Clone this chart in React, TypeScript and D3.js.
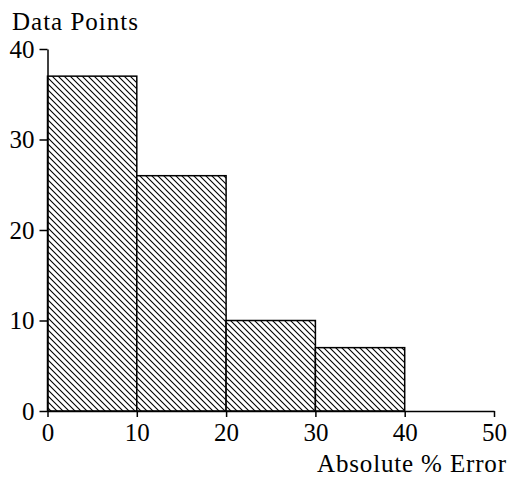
import React, { useRef, useEffect } from "react";
import * as d3 from "d3";

// bins of absolute % error and counts
const binStarts = [0, 10, 20, 30];
const binWidth = 10;
const counts = [37, 26, 10, 7];
const xTicks = [0, 10, 20, 30, 40, 50];
const yTicks = [0, 10, 20, 30, 40];
const yLabel = "Data Points";
const xLabel = "Absolute % Error";

const App = () => {
  const svgRef = useRef<SVGSVGElement | null>(null);

  useEffect(() => {
    const svg = d3.select(svgRef.current);
    svg.selectAll("*").remove();

    const width = 509;
    const height = 477;
    const font = "Liberation Serif";
    svg.attr("width", width).attr("height", height);

    const xScale = d3.scaleLinear().domain([0, 50]).range([47.5, 494]);
    const yScale = d3.scaleLinear().domain([0, 40]).range([411, 49]);

    // hatch pattern
    const s = 6;
    const defs = svg.append("defs");
    const pat = defs
      .append("pattern")
      .attr("id", "hatch")
      .attr("patternUnits", "userSpaceOnUse")
      .attr("width", s)
      .attr("height", s);
    pat.append("rect").attr("width", s).attr("height", s).attr("fill", "#fff");
    pat
      .append("path")
      .attr("d", `M-1,-1 L${s + 1},${s + 1} M-1,${s - 1} L1,${s + 1} M${s - 1},-1 L${s + 1},1`)
      .attr("stroke", "#000")
      .attr("stroke-width", 1.1);

    // bars
    svg
      .selectAll("rect.bar")
      .data(binStarts)
      .enter()
      .append("rect")
      .attr("class", "bar")
      .attr("x", (d) => xScale(d))
      .attr("y", (d, i) => yScale(counts[i]))
      .attr("width", (d) => xScale(d + binWidth) - xScale(d))
      .attr("height", (d, i) => yScale(0) - yScale(counts[i]))
      .attr("fill", "url(#hatch)")
      .attr("stroke", "#000")
      .attr("stroke-width", 1.5);

    // X axis
    const xAxis = d3
      .axisBottom(xScale)
      .tickValues(xTicks)
      .tickSize(6)
      .tickSizeOuter(0)
      .tickPadding(6);
    const gx = svg
      .append("g")
      .attr("transform", `translate(0, ${yScale(0)})`)
      .call(xAxis);

    // Y axis
    const yAxis = d3
      .axisLeft(yScale)
      .tickValues(yTicks)
      .tickSize(8)
      .tickSizeOuter(0)
      .tickPadding(5);
    const gy = svg
      .append("g")
      .attr("transform", `translate(${xScale(0)}, 0)`)
      .call(yAxis);

    [gx, gy].forEach((g) => {
      g.attr("font-family", font).attr("font-size", 25);
      g.select(".domain").attr("stroke", "#000").attr("stroke-width", 1.5);
      g.selectAll(".tick line").attr("stroke", "#000").attr("stroke-width", 1.5);
      g.selectAll(".tick text").attr("fill", "#000");
    });

    svg
      .append("text")
      .attr("x", 12)
      .attr("y", 30)
      .attr("fill", "#000")
      .attr("font-family", font)
      .attr("font-size", 25)
      .attr("textLength", 126)
      .text(yLabel);

    svg
      .append("text")
      .attr("x", 317)
      .attr("y", 472)
      .attr("fill", "#000")
      .attr("font-family", font)
      .attr("font-size", 25)
      .attr("textLength", 189)
      .text(xLabel);
  }, []);

  return (
    <svg
      ref={svgRef}
      style={{ position: "absolute", left: 0, top: 0, display: "block" }}
    />
  );
};

export default App;
